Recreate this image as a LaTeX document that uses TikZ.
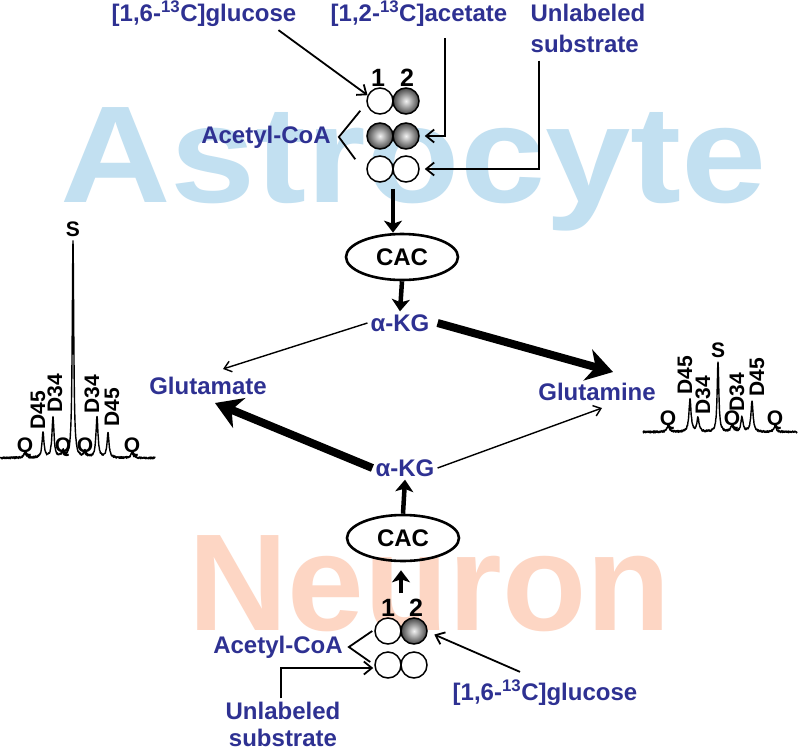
\documentclass[tikz,border=0pt]{standalone}
\usepackage{fontspec}
\setmainfont{Liberation Sans}
\usetikzlibrary{arrows.meta,calc,shapes.geometric}
\definecolor{lblue}{RGB}{46,49,146}
\definecolor{astro}{RGB}{194,224,241}
\definecolor{neuro}{RGB}{253,214,196}
\pgfmathsetseed{11}
\begin{document}
\begin{tikzpicture}[x=1pt, y=-1pt,
    declare function={lor(\t,\c,\h,\w)=\h*(\w/10)^2/((\w/10)^2+((\t-\c)/10)^2);},
    lbl/.style={text=lblue, font=\fontsize{24}{29}\selectfont\bfseries, inner sep=3pt},
    num/.style={font=\fontsize{25}{26}\selectfont\bfseries, inner sep=0pt},
    pk/.style={font=\fontsize{21}{22}\selectfont\bfseries, inner sep=0pt},
    mark13/.style={anchor=base west, inner sep=0pt, font=\fontsize{138}{138}\selectfont\bfseries},
    carbon/.style={circle, draw, line width=1.5pt, minimum size=26pt, inner sep=0pt},
    cold/.style={carbon, fill=white},
    hot/.style={carbon, inner color=gray!10, outer color=black!72},
    cyc/.style={ellipse, draw, line width=2.6pt, minimum width=112pt, minimum height=46pt,
        inner sep=0pt, font=\fontsize{24}{26}\selectfont\bfseries},
    conn/.style={line width=1.8pt, -{Straight Barb[length=8pt,width=13pt]}},
    slim/.style={line width=1.4pt, -{Straight Barb[length=7pt,width=11pt]}},
    fat/.style={line width=8pt, -{Stealth[length=26pt,width=32pt,inset=8pt]}},
    vfat/.style={line width=4.5pt, -{Stealth[length=12pt,width=18pt,inset=3pt]}},
    spec/.style={line width=1.4pt, line join=round}]
\fill[white] (0,0) rectangle (800,750);
\useasboundingbox (0,0) rectangle (800,750);

% cell names behind everything
\node[mark13, text=astro] (astro) at (60,202) {\scalebox{1.11}[1]{Astrocyte}};
\node[mark13, text=neuro] (neuro) at (188,630) {Neuron};

% astrocyte
\node[lbl] (glcA) at (204,14) {[1,6-\textsuperscript{13}C]glucose};
\node[lbl] (aceA) at (419,14) {[1,2-\textsuperscript{13}C]acetate};
\node[lbl, align=left, font=\fontsize{24}{31}\selectfont\bfseries] (unlA) at (588,28) {Unlabeled\\substrate};
\node[lbl] (acoA) at (266,137) {Acetyl-CoA};
\foreach \n/\x/\y/\s in {cA11/380/101/cold, cA12/406/101/hot, cA21/380/136/hot, cA22/406/136/hot,
    cA31/380/169/cold, cA32/406/169/cold}
    \node[\s] (\n) at (\x,\y) {};
\node[num] (oneA) at (378,78) {1};
\node[num] (twoA) at (407,78) {2};
\node[cyc] (cacA) at (402,257) {CAC};
\node[lbl] (akgA) at (400,323) {α-KG};

\draw[conn] ([xshift=-21pt]glcA.south east) -- (cA11.155);
\draw[conn] ([xshift=26pt,yshift=-8pt]aceA.south) |- ([xshift=5pt]cA22.east);
\draw[conn] ([xshift=-49pt,yshift=-5pt]unlA.south) |- ([xshift=5pt]cA32.east);
\draw[line width=1.8pt] ([xshift=-10pt]cA11.south west) -- ([xshift=5pt]acoA.east) -- ([xshift=-15pt]cA31.north west);
\coordinate (midA) at ($(cA31.south)!.5!(cA32.south)$);
\draw[vfat] ([yshift=-6pt]midA) -- (midA |- cacA.north);
\draw[vfat] (cacA.south) -- (akgA.north);

% glutamate / glutamine
\node[lbl] (glu) at (208,386) {Glutamate};
\node[lbl] (gln) at (597,392) {Glutamine};
\draw[slim] (akgA.west) -- ([xshift=15pt,yshift=5pt]glu.north);
\draw[fat] ([xshift=5pt]akgA.east) -- ([xshift=16pt,yshift=8pt]gln.north);

% neuron
\node[lbl] (akgN) at (405,468) {α-KG};
\node[cyc] (cacN) at (403,538) {CAC};
\node[num] (oneN) at (388,608) {1};
\node[num] (twoN) at (416,608) {2};
\foreach \n/\x/\y/\s in {cN11/388/631/cold, cN12/414/631/hot, cN21/388/665/cold, cN22/414/665/cold}
    \node[\s] (\n) at (\x,\y) {};
\node[lbl] (acoN) at (278,647) {Acetyl-CoA};
\node[lbl] (glcN) at (545,693) {[1,6-\textsuperscript{13}C]glucose};
\node[lbl, align=center, font=\fontsize{24}{27}\selectfont\bfseries] (unlN) at (283,724) {Unlabeled\\substrate};

\draw[fat] (akgN.west) -- ([xshift=7pt,yshift=-5pt]glu.south);
\draw[slim] (akgN.east) -- ([xshift=5pt,yshift=-4pt]gln.south);
\draw[vfat] (cacN.north) -- (akgN.south);
\coordinate (midN) at ($(cN11.north)!.5!(cN12.north)$);
\draw[vfat, shorten >=8pt] ([yshift=24pt]midN) -- (midN |- cacN.south);
\draw[line width=1.8pt] ([xshift=-2pt]cN11.west) -- ([xshift=3pt]acoN.east) -- ([xshift=-4pt,yshift=3pt]cN21.west);
\draw[conn] ([xshift=-25pt,yshift=5pt]glcN.north) -- ([xshift=7pt]cN12.-15);
\draw[conn] ([xshift=-2pt]unlN.north) |- ([xshift=-1pt,yshift=-3pt]cN21.west);

% glutamate spectrum
\begin{scope}[shift={(0,458)}]
\draw[spec] plot[domain=0:155, samples=621] (\x, {-(lor(\x,25,5,1.5)+lor(\x,43,25,1.2)+lor(\x,53,40,1.2)
    +lor(\x,63,6,1.5)+lor(\x,73,216,0.9)+lor(\x,85,6,1.5)+lor(\x,97,41,1.2)+lor(\x,108,25,1.2)
    +lor(\x,132,5,1.5))+1.0*rand});
\end{scope}
\foreach \n/\x/\y/\t in {sL/73/229/S, qL1/25/447/Q, qL2/63/447/Q, qL3/85/447/Q, qL4/132/447/Q}
    \node[pk] (\n) at (\x,\y) {\t};
\foreach \n/\x/\y/\t in {dL1/38/410/D45, dL2/55/393/D34, dL3/92/394/D34, dL4/112/407/D45}
    \node[pk, rotate=90] (\n) at (\x,\y) {\t};

% glutamine spectrum
\begin{scope}[shift={(643,432)}]
\draw[spec] plot[domain=0:154, samples=617] (\x, {-(lor(\x,25,6,1.5)+lor(\x,47,32,1.3)+lor(\x,55,14,1.3)
    +lor(\x,75,70,1)+lor(\x,89,6,1.5)+lor(\x,99,15,1.3)+lor(\x,109,30,1.3)
    +lor(\x,132,6,1.5))+1.0*rand});
\end{scope}
\foreach \n/\x/\y/\t in {sR/718/350/S, qR1/668/420/Q, qR2/732/420/Q, qR3/775/420/Q}
    \node[pk] (\n) at (\x,\y) {\t};
\foreach \n/\x/\y/\t in {dR1/685/375/D45, dR2/703/395/D34, dR3/737/392/D34, dR4/757/377/D45}
    \node[pk, rotate=90] (\n) at (\x,\y) {\t};
\end{tikzpicture}
\end{document}
